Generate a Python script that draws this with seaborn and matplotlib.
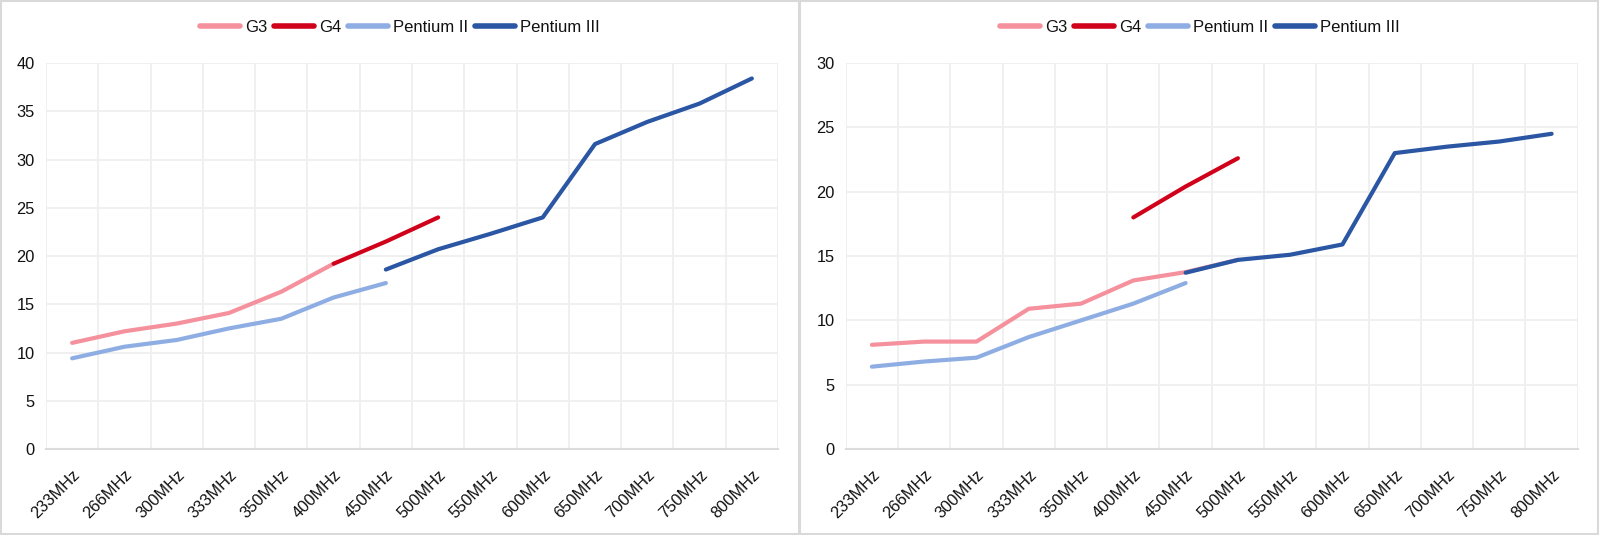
import matplotlib
matplotlib.use('Agg')
import matplotlib.pyplot as plt
import numpy as np
import pandas as pd
import seaborn as sns
from matplotlib.lines import Line2D
from matplotlib.patches import Rectangle

# categories on the x axis
freqs = ['233MHz', '266MHz', '300MHz', '333MHz', '350MHz', '400MHz', '450MHz',
         '500MHz', '550MHz', '600MHz', '650MHz', '700MHz', '750MHz', '800MHz']
series_names = ['G3', 'G4', 'Pentium II', 'Pentium III']
nan = np.nan

# left panel values
left_g3   = [11.0, 12.2, 13.0, 14.1, 16.3, 19.2, nan, nan, nan, nan, nan, nan, nan, nan]
left_g4   = [nan, nan, nan, nan, nan, 19.2, 21.5, 24.0, nan, nan, nan, nan, nan, nan]
left_p2   = [9.4, 10.6, 11.3, 12.5, 13.5, 15.7, 17.2, nan, nan, nan, nan, nan, nan, nan]
left_p3   = [nan, nan, nan, nan, nan, nan, 18.6, 20.7, 22.3, 24.0, 31.6, 33.9, 35.8, 38.4]

# right panel values
right_g3  = [8.1, 8.35, 8.35, 10.9, 11.3, 13.1, 13.75, 14.7, nan, nan, nan, nan, nan, nan]
right_g4  = [nan, nan, nan, nan, nan, 18.0, 20.4, 22.6, nan, nan, nan, nan, nan, nan]
right_p2  = [6.4, 6.8, 7.1, 8.7, 10.0, 11.3, 12.9, nan, nan, nan, nan, nan, nan, nan]
right_p3  = [nan, nan, nan, nan, nan, nan, 13.7, 14.7, 15.1, 15.9, 23.0, 23.5, 23.9, 24.5]

colors = {'G3': '#f4919d', 'G4': '#d0021b', 'Pentium II': '#8eaee3', 'Pentium III': '#2a56a3'}


def long_table(g3, g4, p2, p3):
    frames = []
    for name, vals in zip(series_names, [g3, g4, p2, p3]):
        frames.append(pd.DataFrame({'freq': freqs, 'value': vals, 'series': name}))
    df = pd.concat(frames, ignore_index=True)
    df['freq'] = pd.Categorical(df['freq'], categories=freqs, ordered=True)
    return df.dropna(subset=['value'])


sns.set_theme(style='white')
plt.rcParams['font.family'] = ['Liberation Sans', 'DejaVu Sans']

fig = plt.figure(figsize=(16, 5.35), dpi=100)
ax_l = fig.add_axes([0.02875, 0.1607, 0.4575, 0.7215])
ax_r = fig.add_axes([0.5286, 0.1607, 0.4575, 0.7215])

panels = [(ax_l, long_table(left_g3, left_g4, left_p2, left_p3), 40),
          (ax_r, long_table(right_g3, right_g4, right_p2, right_p3), 30)]

for ax, df, ymax in panels:
    sns.lineplot(data=df, x='freq', y='value', hue='series', hue_order=series_names,
                 palette=colors, linewidth=3, legend=False, sort=False, ax=ax,
                 solid_capstyle='round', solid_joinstyle='round')
    ax.set_xlim(-0.5, len(freqs) - 0.5)
    ax.set_ylim(0, ymax)
    ax.set_yticks(np.arange(0, ymax + 1, 5))
    ax.set_xticks(range(len(freqs)))
    ax.set_xticklabels(freqs, rotation=45, ha='right', va='top', rotation_mode='anchor')
    ax.set_xticks(np.arange(-0.5, len(freqs), 1), minor=True)
    ax.tick_params(axis='x', which='both', length=0, pad=13, labelsize=11.8, colors='#111111')
    ax.tick_params(axis='y', length=0, pad=8, labelsize=11.8, colors='#111111')
    ax.grid(True, axis='y', which='major', color='#efefef', linewidth=1.3)
    ax.grid(True, axis='x', which='minor', color='#efefef', linewidth=1.3)
    ax.grid(False, axis='x', which='major')
    ax.set_axisbelow(True)
    for side in ['top', 'right', 'left']:
        ax.spines[side].set_visible(False)
    ax.spines['bottom'].set_color('#dcdcdc')
    ax.spines['bottom'].set_linewidth(1.5)
    ax.set_xlabel('')
    ax.set_ylabel('')

    handles = [Line2D([0], [0], color=colors[n], lw=4, solid_capstyle='round') for n in series_names]
    ax.legend(handles, series_names, loc='center', ncol=4, frameon=False,
              bbox_to_anchor=(0.25 if ax is ax_l else 0.75, 0.948),
              bbox_transform=fig.transFigure, fontsize=12, labelcolor='#111111',
              handlelength=2.4, handletextpad=0.3, columnspacing=0.4)

# panel borders
fig.add_artist(Rectangle((0.0006, 0.001), 0.4988, 0.997, transform=fig.transFigure,
                         fill=False, edgecolor='#d9d9d9', linewidth=1.5))
fig.add_artist(Rectangle((0.5, 0.001), 0.4985, 0.997, transform=fig.transFigure,
                         fill=False, edgecolor='#d9d9d9', linewidth=1.5))

fig.savefig('out.png', dpi=100)
